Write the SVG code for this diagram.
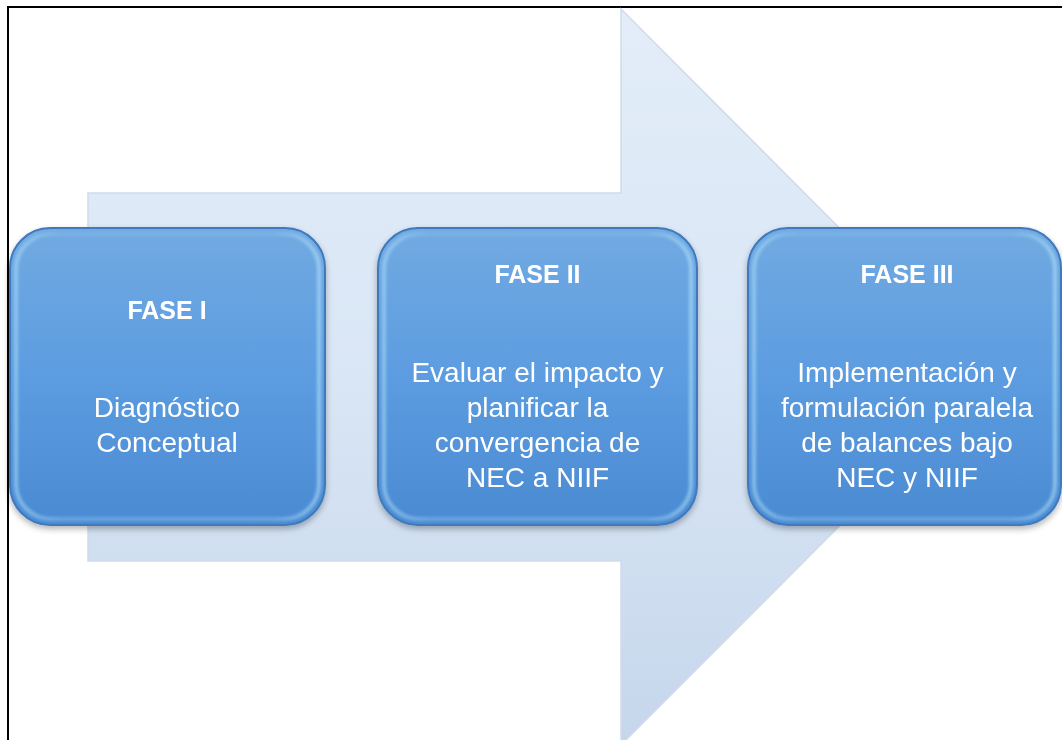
<svg xmlns="http://www.w3.org/2000/svg" width="1062" height="740" viewBox="0 0 1062 740">
<defs>
<linearGradient id="arrowGrad" x1="0" y1="0" x2="0" y2="1">
<stop offset="0" stop-color="#e3edf9"/>
<stop offset="0.5" stop-color="#d9e6f5"/>
<stop offset="1" stop-color="#c6d6eb"/>
</linearGradient>
<linearGradient id="boxGrad" x1="0" y1="0" x2="0" y2="1">
<stop offset="0" stop-color="#72aae2"/>
<stop offset="0.5" stop-color="#5c9ce0"/>
<stop offset="1" stop-color="#4a8ad2"/>
</linearGradient>
<linearGradient id="rimGrad" x1="0" y1="0" x2="1" y2="0">
<stop offset="0" stop-color="#a9dcf6"/>
<stop offset="0.15" stop-color="#7fb7e8"/>
<stop offset="0.85" stop-color="#7fb7e8"/>
<stop offset="1" stop-color="#b3e4f8"/>
</linearGradient>
<filter id="shadow" x="-10%" y="-10%" width="120%" height="125%">
<feGaussianBlur in="SourceAlpha" stdDeviation="3"/>
<feOffset dx="0" dy="3" result="b"/>
<feComponentTransfer><feFuncA type="linear" slope="0.3"/></feComponentTransfer>
<feMerge><feMergeNode/><feMergeNode in="SourceGraphic"/></feMerge>
</filter>
<filter id="soft" x="-5%" y="-5%" width="110%" height="110%">
<feGaussianBlur stdDeviation="1.5"/>
</filter>
</defs>
<style>
.box{fill:url(#boxGrad);stroke:#4079bd;stroke-width:2}
.rim{fill:none;stroke:url(#rimGrad);stroke-width:4;opacity:0.6}
.title{font-family:"Liberation Sans",Arial,sans-serif;font-weight:bold;font-size:25px;fill:#ffffff;text-anchor:middle}
.body{font-family:"Liberation Sans",Arial,sans-serif;font-size:28px;fill:#ffffff;text-anchor:middle}
</style>
<rect x="0" y="0" width="1062" height="740" fill="#ffffff"/>
<rect x="8" y="7" width="1062" height="745" fill="none" stroke="#000000" stroke-width="2"/>
<g id="arrow">
<polygon points="88,193 621,193 621,9 988,377 621,745 621,561 88,561" fill="url(#arrowGrad)" stroke="#cfdbea" stroke-width="1.5"/>
</g>
<g id="connectors"></g>
<g id="fase1" filter="url(#shadow)">
<rect class="box" x="10" y="228" width="315" height="297" rx="40"/>
<rect class="rim" x="16" y="234" width="303" height="285" rx="35" filter="url(#soft)"/>
<text class="title" x="167" y="319">FASE I</text>
<text class="body" x="167" y="417">Diagnóstico</text>
<text class="body" x="167" y="452">Conceptual</text>
</g>
<g id="fase2" filter="url(#shadow)">
<rect class="box" x="378" y="228" width="319" height="297" rx="40"/>
<rect class="rim" x="384" y="234" width="307" height="285" rx="35" filter="url(#soft)"/>
<text class="title" x="537.5" y="283">FASE II</text>
<text class="body" x="537.5" y="382">Evaluar el impacto y</text>
<text class="body" x="537.5" y="417">planificar la</text>
<text class="body" x="537.5" y="452">convergencia de</text>
<text class="body" x="537.5" y="487">NEC a NIIF</text>
</g>
<g id="fase3" filter="url(#shadow)">
<rect class="box" x="748" y="228" width="313" height="297" rx="40"/>
<rect class="rim" x="754" y="234" width="301" height="285" rx="35" filter="url(#soft)"/>
<text class="title" x="907" y="283">FASE III</text>
<text class="body" x="907" y="382">Implementación y</text>
<text class="body" x="907" y="417">formulación paralela</text>
<text class="body" x="907" y="452">de balances bajo</text>
<text class="body" x="907" y="487">NEC y NIIF</text>
</g>
</svg>
